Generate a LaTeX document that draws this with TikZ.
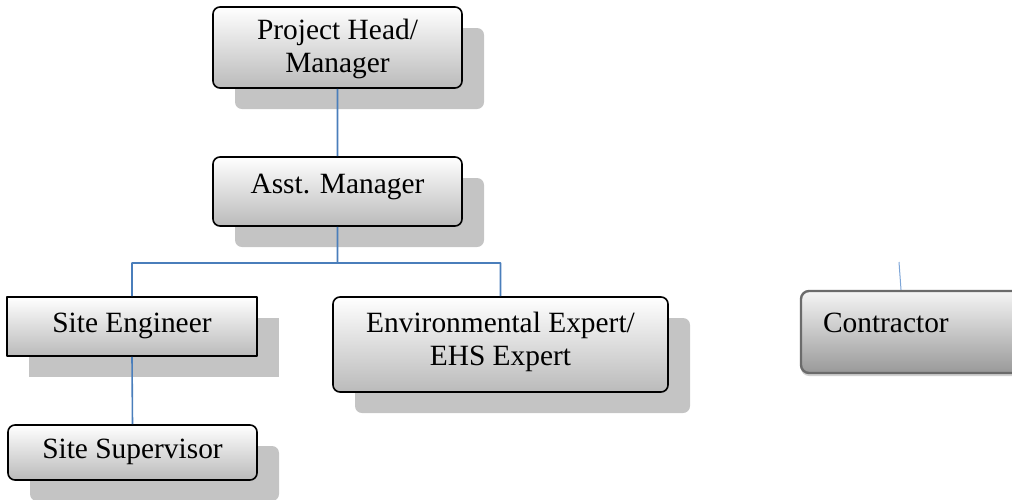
\documentclass[tikz,border=0pt]{standalone}
\usepackage{fontspec}
\setmainfont{Liberation Serif}
\usetikzlibrary{shadows}
\definecolor{linkblue}{RGB}{74,126,187}
\definecolor{stubblue}{RGB}{125,165,215}
\begin{document}
\begin{tikzpicture}[x=0.5pt,y=-0.5pt,line join=round,
	font=\fontsize{14.7}{16.5}\selectfont,
	post/.style={draw=black,line width=0.8pt,rounded corners=3.5pt,
		top color=white,bottom color=black!27,inner ysep=0pt,align=center,
		drop shadow={shadow xshift=11pt,shadow yshift=-10.5pt,fill=black!23,opacity=1}},
	firm/.style={draw=black!58,line width=1.2pt,rounded corners=4pt,
		top color=black!4,bottom color=black!40,inner ysep=0pt,align=left,
		drop shadow={shadow xshift=0pt,shadow yshift=-1.5pt,fill=black!30,opacity=.6}},
	link/.style={draw=linkblue,line width=0.8pt}]
	\useasboundingbox (0,0) rectangle (1012,499);
	% posts
	\node[post,minimum width=124.5pt,text height=32.5pt,text depth=8pt]
	(head) at (337.5,47.5) {Project Head/\\Manager};
	\node[post,minimum width=124.5pt,text height=18pt,text depth=16.5pt]
	(asst) at (337.5,191.5) {Asst. Manager};
	\node[post,sharp corners,minimum width=125pt,text height=17.5pt,text depth=12pt]
	(site) at (132,326.5) {Site Engineer};
	\node[post,minimum width=124.5pt,text height=16.5pt,text depth=11pt]
	(sup) at (132.5,452.5) {Site Supervisor};
	\node[post,minimum width=167.5pt,text height=34pt,text depth=13.5pt]
	(env) at (500.5,344.5) {Environmental Expert/\\EHS Expert};
	\node[firm,text width=88pt,inner xsep=11pt,text height=20.5pt,text depth=20.5pt]
	(contr) at (911,332) {Contractor};
	% links
	\path
	(337.5,263) coordinate (bus)
	(899,262) coordinate (stub)
	;
	\draw[link]
	(head) -- (asst)
	(asst.south) -- (bus) -| (site.north)
	(bus) -| (env.north)
	(site.south) -- (sup.north)
	;
	\draw[stubblue,line width=0.5pt] (stub) -- ([xshift=-5pt]contr.north);
\end{tikzpicture}
\end{document}
